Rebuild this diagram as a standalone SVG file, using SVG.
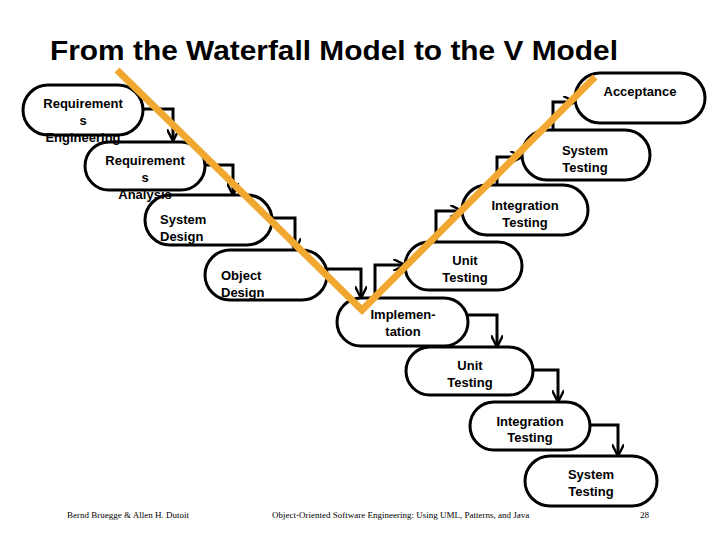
<svg xmlns="http://www.w3.org/2000/svg" width="720" height="540" viewBox="0 0 720 540">
<defs>
<marker id="ah" viewBox="0 0 10 10" refX="9" refY="5" markerWidth="4" markerHeight="4" orient="auto" markerUnits="strokeWidth"><path d="M0,0 L10,5 L0,10" fill="none" stroke="#000" stroke-width="2"/></marker>
</defs>
<style>
.n{fill:#fff;stroke:#000;stroke-width:3}
.t{font-family:"Liberation Sans",Arial,sans-serif;font-size:13px;font-weight:bold;fill:#000;text-anchor:middle}
.tl{font-family:"Liberation Sans",Arial,sans-serif;font-size:13px;font-weight:bold;fill:#000}
.c{fill:none;stroke:#000;stroke-width:3;marker-end:url(#ah)}
.f{font-family:"Liberation Serif","Times New Roman",serif;font-size:9px;fill:#000}
</style>
<rect width="720" height="540" fill="#fff"/>
<text x="50" y="60" font-family="Liberation Sans,Arial,sans-serif" font-size="28" font-weight="bold" textLength="568" lengthAdjust="spacingAndGlyphs" fill="#000">From the Waterfall Model to the V Model</text>
<g id="connectors">
<path class="c" d="M143,109 H173 V140"/>
<path class="c" d="M205,165 H233 V194"/>
<path class="c" d="M272,218 H295 V249"/>
<path class="c" d="M327,269 H361 V297"/>
<path class="c" d="M468,315 H497 V346"/>
<path class="c" d="M533,370 H558 V401"/>
<path class="c" d="M590,425 H618 V455"/>
<path class="c" d="M375,298 V265 H404"/>
<path class="c" d="M436,242 V211 H461"/>
<path class="c" d="M497,185 V157 H521"/>
<path class="c" d="M553,130 V102 H574"/>
</g>
<g id="sysdes"><rect class="n" x="145" y="195" width="127" height="50" rx="25"/><text class="tl" x="160" y="224">System</text><text class="tl" x="160" y="241">Design</text></g>
<g id="reqana"><rect class="n" x="85" y="142" width="120" height="48" rx="24"/><text class="t" x="145" y="165">Requirement</text><text class="t" x="145" y="182">s</text><text class="t" x="145" y="199">Analysis</text></g>
<g id="reqeng"><rect class="n" x="23" y="85" width="120" height="50" rx="25"/><text class="t" x="83" y="108">Requirement</text><text class="t" x="83" y="125">s</text><text class="t" x="83" y="142">Engineering</text></g>
<g id="objdes"><rect class="n" x="205" y="250" width="122" height="50" rx="25"/><text class="tl" x="221" y="280">Object</text><text class="tl" x="221" y="297">Design</text></g>
<g id="impl"><rect class="n" x="337" y="298" width="131" height="48" rx="24"/><text class="t" x="403" y="319">Implemen-</text><text class="t" x="403" y="336">tation</text></g>
<g id="unit1"><rect class="n" x="406" y="347" width="127" height="48" rx="24"/><text class="t" x="470" y="370">Unit</text><text class="t" x="470" y="387">Testing</text></g>
<g id="integ1"><rect class="n" x="470" y="402" width="120" height="48" rx="24"/><text class="t" x="530" y="426">Integration</text><text class="t" x="530" y="442">Testing</text></g>
<g id="systest1"><rect class="n" x="525" y="456" width="132" height="50" rx="25"/><text class="t" x="591" y="479">System</text><text class="t" x="591" y="496">Testing</text></g>
<g id="unit2"><rect class="n" x="405" y="242" width="117" height="48" rx="24"/><text class="t" x="465" y="265">Unit</text><text class="t" x="465" y="282">Testing</text></g>
<g id="integ2"><rect class="n" x="462" y="185" width="126" height="50" rx="25"/><text class="t" x="525" y="210">Integration</text><text class="t" x="525" y="227">Testing</text></g>
<g id="systest2"><rect class="n" x="522" y="130" width="128" height="50" rx="25"/><text class="t" x="585" y="155">System</text><text class="t" x="585" y="172">Testing</text></g>
<g id="accept"><rect class="n" x="575" y="73" width="130" height="50" rx="25"/><text class="t" x="640" y="96">Acceptance</text></g>
<polyline points="117,70 362,310 595,77" fill="none" stroke="#F0A830" stroke-width="7"/>
<text class="f" x="67" y="518">Bernd Bruegge &amp; Allen H. Dutoit</text>
<text class="f" x="272" y="518">Object-Oriented Software Engineering: Using UML, Patterns, and Java</text>
<text class="f" x="640" y="518">28</text>
</svg>
